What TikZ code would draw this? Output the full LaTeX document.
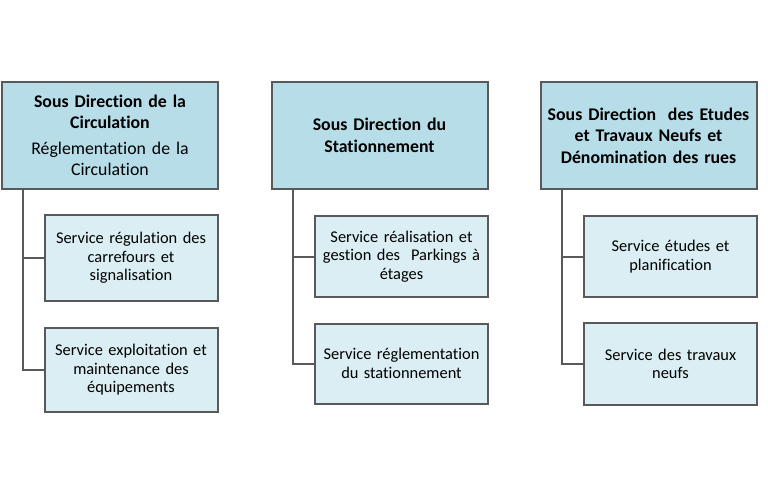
\documentclass[tikz,border=0pt]{standalone}
\usepackage{fontspec}
\setmainfont{Carlito}[RawFeature=-liga]
\definecolor{headfill}{HTML}{B7DDE8}
\definecolor{childfill}{HTML}{DAEEF3}
\definecolor{edge}{HTML}{595959}
\begin{document}
\begin{tikzpicture}[x=1pt,y=-1pt,
  headbox/.style={draw=edge,line width=2pt,fill=headfill,minimum width=216pt,minimum height=107pt,
    text width=214pt,align=center,inner sep=0pt,font=\fontsize{17.8}{21.5}\selectfont\bfseries},
  childbox/.style={draw=edge,line width=2pt,fill=childfill,minimum width=173pt,
    text width=171pt,align=center,inner sep=0pt,font=\fontsize{16.4}{18.5}\selectfont},
  link/.style={draw=edge,line width=2pt}]
\useasboundingbox (0,0) rectangle (768,492);
\fill[white] (0,0) rectangle (768,492);
% column 1
\node[headbox] (h1) at (110,135.5) {Sous Direction de la\\Circulation\\[4pt]{\mdseries Réglementation de la\\Circulation}};
\node[childbox,minimum height=86pt] (c1a) at (131,258) {Service régulation des\\carrefours et\\signalisation};
\node[childbox,minimum height=84pt] (c1b) at (131,370) {Service exploitation et\\maintenance des\\équipements};
% column 2
\node[headbox] (h2) at (379.5,135.5) {Sous Direction du\\Stationnement};
\node[childbox,minimum height=81pt] (c2a) at (401.5,256.5) {Service réalisation et\\gestion des~ Parkings à\\étages};
\node[childbox,minimum height=80pt] (c2b) at (401.5,363.5) {Service réglementation\\du stationnement};
% column 3
\node[headbox] (h3) at (648.5,135.5) {Sous Direction~ des Etudes\\et Travaux Neufs et\\Dénomination des rues};
\node[childbox,minimum height=81pt] (c3a) at (670.5,256.5) {Service études et\\planification};
\node[childbox,minimum height=82pt] (c3b) at (670.5,364) {Service des travaux\\neufs};
% connectors
\draw[link] ([xshift=22pt]h1.south west) |- (c1a.west);
\draw[link] ([xshift=22pt]h1.south west) |- (c1b.west);
\draw[link] ([xshift=22pt]h2.south west) |- (c2a.west);
\draw[link] ([xshift=22pt]h2.south west) |- (c2b.west);
\draw[link] ([xshift=22pt]h3.south west) |- (c3a.west);
\draw[link] ([xshift=22pt]h3.south west) |- (c3b.west);
\end{tikzpicture}
\end{document}
